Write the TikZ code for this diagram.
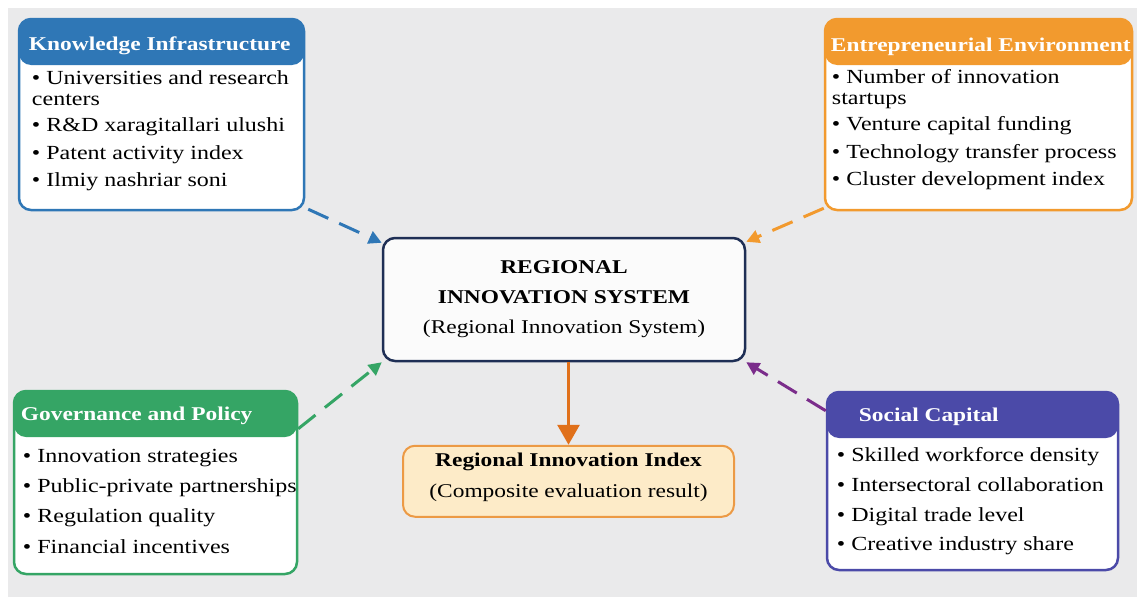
\documentclass[tikz,border=0pt]{standalone}
\usepackage{fontspec}
\setmainfont[FakeStretch=1.2]{Liberation Serif}
\usepackage{tikz}
\usetikzlibrary{positioning,arrows.meta}

\definecolor{kblue}{HTML}{2F77B6}
\definecolor{eorange}{HTML}{F29A2E}
\definecolor{ggreen}{HTML}{35A565}
\definecolor{spurple}{HTML}{4B4AA8}
\definecolor{navy}{HTML}{1F2F55}
\definecolor{peach}{HTML}{FDEBC8}
\definecolor{idxorange}{HTML}{EC9A45}
\definecolor{downorange}{HTML}{E0701A}
\definecolor{linkpurple}{HTML}{7B2D8B}
\definecolor{bggray}{HTML}{EAEAEB}

\begin{document}
\begin{tikzpicture}[x=1pt, y=1pt,
    group box/.style={draw=#1, fill=white, line width=2.5pt, rounded corners=12pt,
        path picture={\fill[#1] (path picture bounding box.north west) rectangle ([yshift=-46pt]path picture bounding box.north east);}},
    head text/.style={anchor=west, inner sep=0pt, text=white, font=\fontsize{19.5}{20}\selectfont\bfseries},
    item text/.style={anchor=north west, inner sep=0pt, align=left, font=\fontsize{20}{21}\selectfont},
    link/.style={#1, line width=3pt, dash pattern=on 22pt off 12pt, -{Triangle[length=13pt,width=13pt]}}]

  \useasboundingbox (0,0) rectangle (1137,-597);
  \fill[bggray] (8,-8) rectangle (1137,-597);

  % central system
  \node[draw=navy, fill=white!97!gray, line width=2.5pt, rounded corners=12pt,
        minimum width=362pt, minimum height=123pt, align=center,
        font=\fontsize{19.5}{30}\selectfont] (rsys) at (564,-299.5)
        {\textbf{REGIONAL}\\ \textbf{INNOVATION SYSTEM}\\ (Regional Innovation System)};
  \node[draw=idxorange, fill=peach, line width=2pt, rounded corners=12pt,
        minimum width=331pt, minimum height=71pt, align=center, text depth=12pt,
        font=\fontsize{19.5}{31}\selectfont, below=82.5pt of rsys, xshift=4.5pt] (rii)
        {\textbf{Regional Innovation Index}\\ (Composite evaluation result)};

  % the four groups
  \node[group box=kblue, minimum width=285pt, minimum height=191pt,
        above left=25.5pt and 76.5pt of rsys] (know) {};
  \node[group box=eorange, minimum width=307pt, minimum height=191pt,
        above right=25.5pt and 77.5pt of rsys] (entre) {};
  \node[group box=ggreen, minimum width=283pt, minimum height=183pt,
        below left=27.5pt and 83.5pt of rsys] (gov) {};
  \node[group box=spurple, minimum width=291pt, minimum height=178pt,
        below right=28.5pt and 79.5pt of rsys] (soc) {};

  \node[head text] (knowhead) at ([xshift=11pt,yshift=-28pt]know.north west) {Knowledge Infrastructure};
  \node[head text] (entrehead) at ([xshift=7pt,yshift=-29pt]entre.north west) {Entrepreneurial Environment};
  \node[head text] (govhead) at ([xshift=8pt,yshift=-26pt]gov.north west) {Governance and Policy};
  \node[head text] (sochead) at ([xshift=33pt,yshift=-26pt]soc.north west) {Social Capital};

  \node[item text] (knowlist) at ([xshift=14pt,yshift=-53pt]know.north west)
    {• Universities and research\\ centers\\[5pt] • R\&D xaragitallari ulushi\\[7pt]
     • Patent activity index\\[6pt] • Ilmiy nashriar soni};
  \node[item text] (entrelist) at ([xshift=8pt,yshift=-51.5pt]entre.north west)
    {• Number of innovation\\ startups\\[5pt] • Venture capital funding\\[7pt]
     • Technology transfer process\\[6pt] • Cluster development index};
  \node[item text] (govlist) at ([xshift=10pt,yshift=-59pt]gov.north west)
    {• Innovation strategies\\[9pt] • Public-private partnerships\\[9pt]
     • Regulation quality\\[10pt] • Financial incentives};
  \node[item text] (soclist) at ([xshift=11pt,yshift=-56.5pt]soc.north west)
    {• Skilled workforce density\\[8.5pt] • Intersectoral collaboration\\[9pt]
     • Digital trade level\\[8pt] • Creative industry share};

  % connectors
  \draw[link=kblue] ([xshift=3pt,yshift=2pt]know.south east) -- ([yshift=-6pt]rsys.north west);
  \draw[link=eorange] ([yshift=3pt]entre.south west) -- ([yshift=-5pt]rsys.north east);
  \draw[link=ggreen] ([yshift=-39pt]gov.north east) -- (rsys.south west);
  \draw[link=linkpurple] ([yshift=-20pt]soc.north west) -- (rsys.south east);
  \draw[downorange, line width=3pt, -{Triangle[length=20pt,width=22pt]}] (rsys.south -| rii.north) -- (rii.north);
\end{tikzpicture}
\end{document}
